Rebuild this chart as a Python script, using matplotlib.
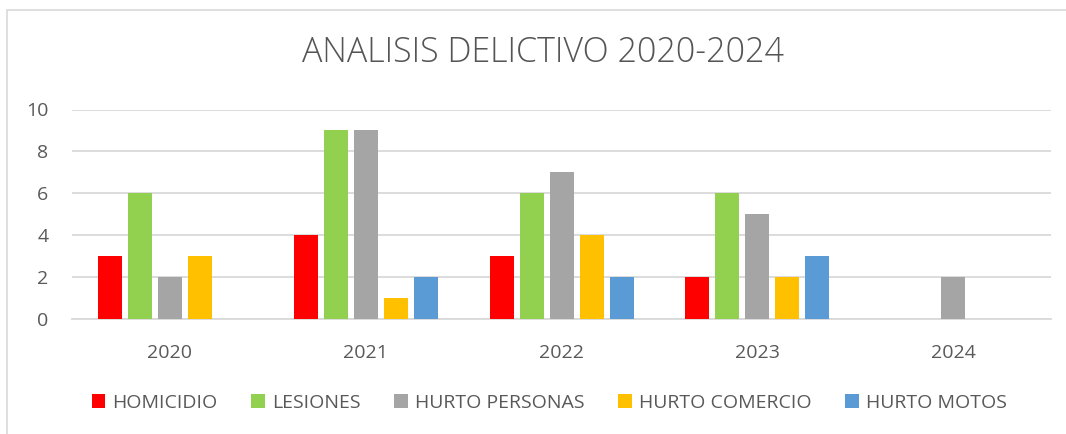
import matplotlib
matplotlib.use("Agg")
import matplotlib.pyplot as plt
import numpy as np
from matplotlib.patches import Rectangle

years = ["2020", "2021", "2022", "2023", "2024"]
series_names = ["HOMICIDIO", "LESIONES", "HURTO PERSONAS", "HURTO COMERCIO", "HURTO MOTOS"]
homicidio = [3, 4, 3, 2, 0]
lesiones = [6, 9, 6, 6, 0]
hurto_personas = [2, 9, 7, 5, 2]
hurto_comercio = [3, 1, 4, 2, 0]
hurto_motos = [0, 2, 2, 3, 0]
colors = ["#FF0000", "#92D050", "#A5A5A5", "#FFC000", "#5B9BD5"]
yticks = [0, 2, 4, 6, 8, 10]

plt.rcParams['font.family'] = ['Open Sans', 'DejaVu Sans']
txt = "#595959"
W, H = 1066, 434
fig = plt.figure(figsize=(W / 100, H / 100), dpi=100)
fig.patches.append(Rectangle((7 / W, 0 - 0.01), 1.2, 1 - 10 / H + 0.01, transform=fig.transFigure,
                             fill=False, edgecolor="#D9D9D9", linewidth=1.2))
ax = fig.add_axes([72 / W, 1 - 318.7 / H, (1051 - 72) / W, (318.7 - 109.5) / H])

data = [homicidio, lesiones, hurto_personas, hurto_comercio, hurto_motos]
x = np.arange(len(years))
step = 30 / 195.8
width = 24 / 195.8
for i, (name, vals, c) in enumerate(zip(series_names, data, colors)):
    ax.bar(x + (i - 2) * step, vals, width, color=c, label=name, zorder=3)

ax.set_xlim(-0.5, len(years) - 0.5)
ax.set_ylim(0, 10)
ax.set_yticks(yticks)
ax.set_yticklabels([str(v) for v in yticks])
ax.set_xticks(x)
ax.set_xticklabels(years)
ax.grid(axis="y", color="#D9D9D9", linewidth=1.3, zorder=0)
for s in ["top", "right", "left"]:
    ax.spines[s].set_visible(False)
ax.spines["bottom"].set_color("#D9D9D9")
ax.spines["bottom"].set_linewidth(1.3)
ax.tick_params(axis="both", length=0, colors=txt, labelsize=14)
ax.tick_params(axis="y", pad=17)
ax.tick_params(axis="x", pad=18)

fig.text(543 / W, 1 - 53 / H, "ANALISIS DELICTIVO 2020-2024", ha="center", va="center",
         fontsize=24.5, color="#555555", fontweight="light")

leg = fig.legend(loc="center", bbox_to_anchor=(549 / W, 1 - 403 / H), ncol=5, frameon=False,
                 fontsize=14, handlelength=0.7, handleheight=0.7, handletextpad=0.35,
                 columnspacing=1.75, labelcolor=txt)
fig.savefig("out.png", dpi=100)
